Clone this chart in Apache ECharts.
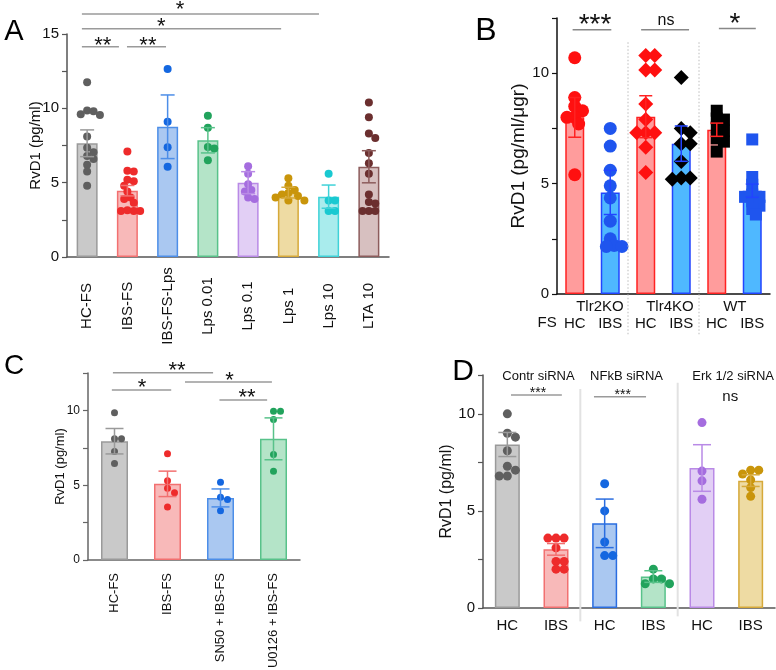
<!DOCTYPE html>
<html><head><meta charset="utf-8">
<script src="https://cdn.jsdelivr.net/npm/echarts@6/dist/echarts.min.js"></script>
<style>html,body{margin:0;padding:0;background:#fff}#c{width:776px;height:670px}</style>
</head><body><div id="c"></div>
<script>
// ================= DATA =================
// Panel A
const aCats = ['HC-FS','IBS-FS','IBS-FS-Lps','Lps 0.01','Lps 0.1','Lps 1','Lps 10','LTA 10'];
const aMeans = [7.65,4.46,8.76,7.85,5.0,4.33,4.06,6.07];
const aSem = [0.9,0.35,2.14,0.85,0.74,0.36,0.78,1.08];
const aDotsHCFS = [11.75,9.85,9.8,9.6,9.55,8.1,7.35,7.05,6.8,6.6,6.2,5.75,4.8];
const aDotsIBSFS = [7.1,5.8,5.75,5.2,5.1,4.8,4.4,4.0,3.9,3.65,3.15,3.1,3.1,3.1];
const aDotsIBSFSLps = [12.64,9.1,7.38,6.07];
const aDotsLps001 = [9.5,8.7,7.4,7.3,6.5];
const aDotsLps01 = [6.1,5.6,4.9,4.5,4.4,4.0,3.9];
const aDotsLps1 = [5.3,4.8,4.5,4.3,4.2,4.1,4.0,3.8,3.8];
const aDotsLps10 = [5.6,3.8,3.8,3.1,3.1];
const aDotsLTA10 = [10.4,9.4,8.3,8.0,7.0,6.3,5.6,4.2,3.7,3.6,3.1,3.1,3.1];
const aYTicks = [0,5,10,15];

// Panel B
const bCats = ['HC','IBS','HC','IBS','HC','IBS'];
const bGroups = ['Tlr2KO','Tlr4KO','WT'];
const bMeans = [8.0,4.6,8.03,6.81,7.44,4.68];
const bSem = [0.9,1.0,0.95,0.8,0.3,0.3];
const bDotsTlr2HC = [10.7,8.9,8.5,8.3,8.0,8.0,7.7,5.4];
const bDotsTlr2IBS = [7.5,6.7,5.6,4.9,4.35,3.3,2.5,2.2,2.15,2.15];
const bDotsTlr4HC = [10.8,10.8,10.15,10.15,8.6,7.9,7.3,7.3,7.3,6.65,5.5];
const bDotsTlr4IBS = [9.8,7.5,7.3,6.8,6.8,6.0,5.25,5.25,5.2];
const bDotsWTHC = [8.3,7.95,7.9,7.55,7.4,7.05,6.9,6.45];
const bDotsWTIBS = [7.0,5.3,4.95,4.5,4.4,4.4,4.2,4.0,3.85,3.6];
const bYTicks = [0,5,10];

// Panel C
const cCats = ['HC-FS','IBS-FS','SN50 + IBS-FS','U0126 + IBS-FS'];
const cMeans = [7.94,5.09,4.15,8.1];
const cSem = [0.85,0.85,0.6,1.4];
const cDotsHC = [9.85,8.1,8.1,7.25,6.45];
const cDotsIBS = [7.1,5.3,4.8,4.5,3.55];
const cDotsSN50 = [5.2,4.2,4.05,3.3];
const cDotsU0126 = [9.95,9.95,9.4,7.05,5.93];
const cYTicks = [0,5,10];

// Panel D
const dCats = ['HC','IBS','HC','IBS','HC','IBS'];
const dGroups = ['Contr siRNA','NFkB siRNA','Erk 1/2 siRNA'];
const dMeans = [8.42,3.02,4.36,1.62,7.21,6.56];
const dSem = [0.62,0.3,1.25,0.3,1.2,0.3];
const dDotsContrHC = [10.0,9.0,8.8,8.1,7.3,7.1,6.8,6.8];
const dDotsContrIBS = [3.6,3.6,3.6,3.1,2.4,2.4,2.0,2.0];
const dDotsNFkBHC = [6.4,5.0,3.4,2.7,2.7];
const dDotsNFkBIBS = [2.0,1.5,1.5,1.25,1.25];
const dDotsErkHC = [9.55,7.05,6.55,5.6];
const dDotsErkIBS = [7.1,7.1,6.9,6.6,6.2,5.75];
const dYTicks = [0,5,10];

// ================= STYLE / LAYOUT =================
const FONT = '"Liberation Sans", Arial, Helvetica, sans-serif';
const GRAYF='#c9c9c9',GRAYB='#9a9a9a',GRAYD='#5f5f5f';
const REDF='#f8b9b9',REDB='#f27070',REDD='#ee2b2b';
const BLUF='#aac8f1',BLUB='#4d8ee8',BLUD='#1467e0';
const GRNF='#b4e4c8',GRNB='#58c28a',GRND='#21a35c';
const PURF='#e2cff5',PURB='#b98ae6',PURD='#a56ddf';
const GLDF='#eedba3',GLDB='#d6a93a',GLDD='#c9950b';

// deterministic beeswarm layout (pixel-based, from the values only)
function swarm(vals, idx, pxX, pxY, r, step, minD){
  const placed=[], out=[];
  for(const v of vals){
    const y=v*pxY; let off=0;
    for(let k=0;k<80;k++){
      const c = k===0?0:(k%2?1:-1)*Math.ceil(k/2)*r*step;
      if(placed.every(p=>Math.hypot(p[0]-c,p[1]-y)>=minD*r)){off=c;break;}
    }
    placed.push([off,y]); out.push([idx+off/pxX, v]);
  }
  return out;
}

const panels = [
 { // A
  grid:{left:67,top:34,width:322,height:223}, cats:aCats, means:aMeans, sem:aSem, ymax:15, yTicks:aYTicks,
  dots:[aDotsHCFS,aDotsIBSFS,aDotsIBSFSLps,aDotsLps001,aDotsLps01,aDotsLps1,aDotsLps10,aDotsLTA10],
  fill:[GRAYF,REDF,BLUF,GRNF,PURF,GLDF,'#a9eced','#d7c0c0'],
  border:[GRAYB,REDB,BLUB,GRNB,PURB,GLDB,'#3fd2d8','#8c5c5c'],
  dotColor:[GRAYD,REDD,BLUD,GRND,PURD,GLDD,'#19c9d1','#6b2f2f'],
  errColor:[GRAYB,REDB,BLUB,GRNB,PURB,GLDB,'#3fd2d8','#8c5c5c'],
  dotSize:8, step:0.8, minD:1.5, barW:21, capW:14, axisColor:'#555', axisW:1.5,
  yName:'RvD1 (pg/ml)', yNameSize:15, yNameGap:24, nameMove:false, yLabelSize:15,
  xLabel:{rotate:90, align:'center', verticalAlign:'middle', margin:49, fontSize:15},
  brColor:'#9a9a9a',
  anns:[
   {t:'br',x0:-0.13,x1:5.76,y:16.34,tx:2.31,text:'*',size:22,dy:4},
   {t:'br',x0:-0.13,x1:4.82,y:15.35,tx:1.84,text:'*',size:22,dy:2.3},
   {t:'br',x0:-0.13,x1:0.79,y:14.14,tx:0.39,text:'**',size:22,dy:1.3},
   {t:'br',x0:0.99,x1:1.96,y:14.14,tx:1.51,text:'**',size:22,dy:1.3}
  ]
 },
 { // B
  grid:{left:557,top:18,width:213,height:276}, cats:bCats, means:bMeans, sem:bSem, ymax:12.5, yTicks:bYTicks,
  dots:[bDotsTlr2HC,bDotsTlr2IBS,bDotsTlr4HC,bDotsTlr4IBS,bDotsWTHC,bDotsWTIBS],
  fill:['#ff9c9c','#4fb8ff','#ff9c9c','#4fb8ff','#ff9c9c','#4fb8ff'],
  border:['#ff2222','#2244ff','#ff2222','#2244ff','#ff2222','#2244ff'],
  dotColor:['#ff1010','#1f55ee','#ff1010','#000000','#000000','#1f55ee'],
  symbols:['circle','circle','diamond','diamond','rect','rect'],
  dotSizes:[13,13,15,15,12,12],
  errColor:['#ff2222','#2244ff','#ff2222','#2244ff','#ff2222','#2244ff'],
  dotSize:13, step:0.6, minD:1.05, barW:19, capW:13, axisColor:'#111', axisW:1.5,
  yName:'RvD1 (pg/ml/\u03bcgr)', yNameSize:19, yNameGap:29, nameMove:true, yLabelSize:15,
  xLabel:{margin:22, fontSize:15},
  brColor:'#888',
  anns:[
   {t:'vl',tx:1.5,y0:11.4,y1:-1.85,color:'#bbbbbb',w:1,dash:[1.5,2]},
   {t:'vl',tx:3.5,y0:11.4,y1:-1.85,color:'#bbbbbb',w:1,dash:[1.5,2]},
   {t:'br',x0:-0.06,x1:1.03,y:11.97,tx:0.57,text:'***',size:28,dy:4.8},
   {t:'br',x0:1.87,x1:3.22,y:11.97,tx:2.57,text:'ns',size:16,dy:9.4},
   {t:'br',x0:4.06,x1:5.1,y:12.03,tx:4.51,text:'*',size:28,dy:4.5},
   {t:'tx',tx:0.71,y:-0.56,text:bGroups[0],size:15},
   {t:'tx',tx:2.68,y:-0.56,text:bGroups[1],size:15},
   {t:'tx',tx:4.51,y:-0.56,text:bGroups[2],size:15},
   {t:'tx',tx:-0.78,y:-1.3,text:'FS',size:15}
  ]
 },
 { // C
  grid:{left:88,top:373,width:212,height:187}, cats:cCats, means:cMeans, sem:cSem, ymax:12.5, yTicks:cYTicks,
  dots:[cDotsHC,cDotsIBS,cDotsSN50,cDotsU0126],
  fill:[GRAYF,REDF,BLUF,GRNF], border:[GRAYB,REDB,BLUB,GRNB],
  dotColor:[GRAYD,REDD,BLUD,GRND], errColor:[GRAYB,REDB,BLUB,GRNB],
  dotSize:7, step:1, minD:1.8, barW:27, capW:18, axisColor:'#666', axisW:1.5,
  yName:'RvD1 (pg/ml)', yNameSize:13, yNameGap:21, nameMove:false, yLabelSize:12,
  xLabel:{rotate:90, margin:13, fontSize:13},
  brColor:'#9a9a9a',
  anns:[
   {t:'br',x0:-0.03,x1:1.86,y:12.52,tx:1.18,text:'**',size:22,dy:1.8},
   {t:'br',x0:-0.05,x1:1.07,y:11.36,tx:0.52,text:'*',size:22,dy:2},
   {t:'br',x0:1.33,x1:2.97,y:11.9,tx:2.17,text:'*',size:22,dy:0.7},
   {t:'br',x0:1.98,x1:2.88,y:10.69,tx:2.5,text:'**',size:22,dy:2}
  ]
 },
 { // D
  grid:{left:483,top:375,width:292,height:233}, cats:dCats, means:dMeans, sem:dSem, ymax:12, yTicks:dYTicks,
  dots:[dDotsContrHC,dDotsContrIBS,dDotsNFkBHC,dDotsNFkBIBS,dDotsErkHC,dDotsErkIBS],
  fill:[GRAYF,REDF,BLUF,GRNF,PURF,GLDF], border:[GRAYB,REDB,'#2a6de0',GRNB,PURB,GLDB],
  dotColor:[GRAYD,REDD,BLUD,GRND,PURD,GLDD], errColor:[GRAYB,REDB,'#2a6de0',GRNB,PURB,GLDB],
  dotSize:9, step:0.9, minD:1.5, barW:25, capW:18, axisColor:'#555', axisW:1.5,
  yName:'RvD1 (pg/ml)', yNameSize:16, yNameGap:27, nameMove:true, yLabelSize:15,
  xLabel:{margin:10, fontSize:15},
  brColor:'#9a9a9a',
  anns:[
   {t:'vl',tx:1.5,y0:11.28,y1:-0.69,color:'#e2e2e2',w:2},
   {t:'vl',tx:3.5,y0:11.6,y1:-0.43,color:'#e2e2e2',w:2},
   {t:'tx',tx:0.64,y:11.91,text:dGroups[0],size:13},
   {t:'tx',tx:2.45,y:11.91,text:dGroups[1],size:13},
   {t:'tx',tx:4.64,y:11.91,text:dGroups[2],size:13},
   {t:'br',x0:0.075,x1:1.12,y:10.97,tx:0.63,text:'***',size:14,dy:2},
   {t:'br',x0:1.78,x1:2.85,y:10.88,tx:2.37,text:'***',size:14,dy:2},
   {t:'tx',tx:4.58,y:10.88,text:'ns',size:15}
  ]
 }
];

// ================= BUILD =================
const grids=[], xAxes=[], yAxes=[], series=[];
function txt(x,y,s,size){
  return {type:'text', x:x, y:y, style:{text:s, fontSize:size, fontFamily:FONT, fill:'#111',
    align:'center', verticalAlign:'middle', textAlign:'center', textVerticalAlign:'middle'}};
}
panels.forEach((P,pi)=>{
  const n=P.cats.length;
  grids.push(Object.assign({containLabel:false, outerBoundsMode:'none'}, P.grid));
  xAxes.push({type:'category', gridIndex:pi, data:P.cats,
    axisTick:{show:false}, axisLine:{show:true, onZero:false, lineStyle:{color:P.axisColor,width:P.axisW}},
    axisLabel:Object.assign({interval:0, color:'#111', fontFamily:FONT}, P.xLabel)});
  xAxes.push({type:'value', gridIndex:pi, min:-0.5, max:n-0.5, show:false, axisLine:{onZero:false}});
  yAxes.push({type:'value', gridIndex:pi, min:0, max:P.ymax, interval:2.5,
    axisLine:{show:true, onZero:false, lineStyle:{color:P.axisColor,width:P.axisW}},
    axisTick:{show:true, length:5, lineStyle:{color:P.axisColor,width:1.2}},
    splitLine:{show:false},
    axisLabel:{color:'#111', fontSize:P.yLabelSize, fontFamily:FONT, margin:8,
      formatter:v=>P.yTicks.indexOf(v)>=0?String(v):''},
    name:P.yName, nameLocation:'middle', nameGap:P.yNameGap, nameMoveOverlap:P.nameMove,
    nameTextStyle:{fontSize:P.yNameSize, fontFamily:FONT, color:'#111'}});
  const pxX=P.grid.width/n, pxY=P.grid.height/P.ymax;
  series.push({type:'bar', xAxisIndex:2*pi, yAxisIndex:pi, barWidth:P.barW, silent:true, z:2,
    data:P.means.map((m,i)=>({value:m, itemStyle:{color:P.fill[i], borderColor:P.border[i], borderWidth:1.5}}))});
  P.dots.forEach((vals,i)=>{
    const sz = P.dotSizes?P.dotSizes[i]:P.dotSize;
    series.push({type:'scatter', xAxisIndex:2*pi+1, yAxisIndex:pi, clip:false, silent:true, z:3,
      symbol:P.symbols?P.symbols[i]:'circle', symbolSize:sz,
      itemStyle:{color:P.dotColor[i], opacity:1},
      data:swarm(vals,i,pxX,pxY,sz/2,P.step,P.minD)});
  });
  series.push({type:'custom', xAxisIndex:2*pi+1, yAxisIndex:pi, silent:true, z:4, clip:false,
    data:P.means.map((m,i)=>[i,m,P.sem[i]]),
    renderItem:(params,api)=>{
      const x=api.value(0), m=api.value(1), s=api.value(2);
      const t=api.coord([x,m+s]), b=api.coord([x,m-s]);
      const hw=P.capW/2, st={stroke:P.errColor[params.dataIndex], lineWidth:1.5};
      return {type:'group', children:[
        {type:'line', shape:{x1:t[0],y1:t[1],x2:b[0],y2:b[1]}, style:st},
        {type:'line', shape:{x1:t[0]-hw,y1:t[1],x2:t[0]+hw,y2:t[1]}, style:st},
        {type:'line', shape:{x1:b[0]-hw,y1:b[1],x2:b[0]+hw,y2:b[1]}, style:st}]};
    }});
  series.push({type:'custom', xAxisIndex:2*pi+1, yAxisIndex:pi, silent:true, z:5, clip:false,
    data:P.anns.map(a=>[a.tx, a.t==='vl'?a.y0:a.y]),
    renderItem:(params,api)=>{
      const a=P.anns[params.dataIndex], ch=[];
      if(a.t==='br'){
        const p0=api.coord([a.x0,a.y]), p1=api.coord([a.x1,a.y]), pt=api.coord([a.tx,a.y]);
        ch.push({type:'line', shape:{x1:p0[0],y1:p0[1],x2:p1[0],y2:p1[1]}, style:{stroke:P.brColor,lineWidth:1.5}});
        ch.push(txt(pt[0], pt[1]-a.dy, a.text, a.size));
      } else if(a.t==='tx'){
        const pt=api.coord([a.tx,a.y]); ch.push(txt(pt[0],pt[1],a.text,a.size));
      } else if(a.t==='vl'){
        const p0=api.coord([a.tx,a.y0]), p1=api.coord([a.tx,a.y1]);
        ch.push({type:'line', shape:{x1:p0[0],y1:p0[1],x2:p1[0],y2:p1[1]},
          style:{stroke:a.color,lineWidth:a.w,lineDash:a.dash||null}});
      }
      return {type:'group', children:ch};
    }});
});

function letter(x,y,s,size){
  return {type:'text', x:x, y:y, style:{text:s, fontSize:size, fontFamily:FONT, fill:'#000',
    align:'center', verticalAlign:'middle', textAlign:'center', textVerticalAlign:'middle'}};
}

const chart = echarts.init(document.getElementById('c'), null, {renderer:'canvas'});
chart.setOption({
  animation:false, backgroundColor:'#fff',
  grid:grids, xAxis:xAxes, yAxis:yAxes, series:series,
  graphic:[letter(14,32,'A',29), letter(486,31,'B',32), letter(14,366,'C',28), letter(463,372,'D',30)]
});
</script></body></html>
